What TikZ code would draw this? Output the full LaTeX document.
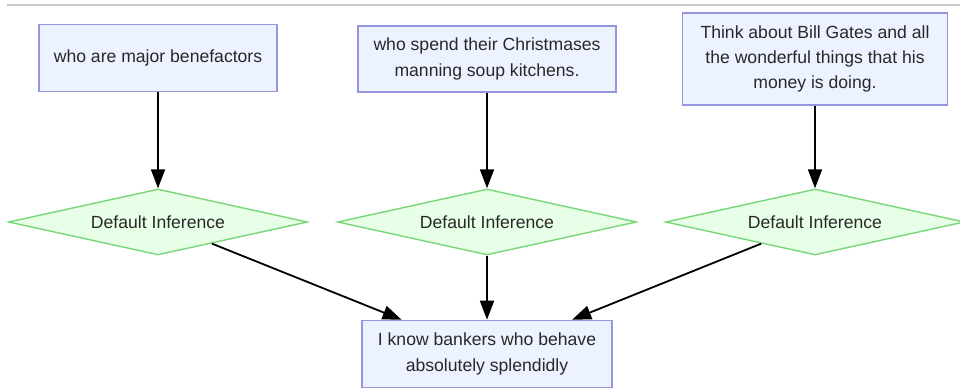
\documentclass[tikz,border=0pt]{standalone}
\usepackage{fontspec}
\setmainfont{Liberation Sans}
\usepackage{tikz}
\usetikzlibrary{arrows.meta,shapes.geometric}
\definecolor{cblue}{RGB}{236,242,255}
\definecolor{cbluedraw}{RGB}{150,150,222}
\definecolor{cgreen}{RGB}{230,255,230}
\definecolor{cgreendraw}{RGB}{120,215,120}
\definecolor{ctext}{RGB}{40,40,40}
\definecolor{csep}{RGB}{200,200,200}

\begin{document}
\begin{tikzpicture}[x=1pt,y=1pt,>={Triangle[length=19pt,width=14pt]},line width=1.8pt,node distance=163pt,
    every node/.style={font=\fontsize{17.6}{25.3}\selectfont,text=ctext,align=center},
    claim/.style={rectangle,draw=cbluedraw,fill=cblue,line width=1.6pt,inner sep=2pt},
    infer/.style={diamond,draw=cgreendraw,fill=cgreen,line width=1.4pt,inner sep=0pt,
      aspect=4.5,minimum width=299pt,minimum height=66pt}]
	  \useasboundingbox (0,0) rectangle (960,-390);
	  \draw[csep,line width=1.4pt] (7,-5) -- (960,-5);
	  \node[claim, minimum width=258pt, minimum height=66pt] (why2) at (487,-59) {who spend their Christmases\\manning soup kitchens.};
	  \node[claim, minimum width=238pt, minimum height=67pt] (why1) [left of=why2, node distance=329pt, yshift=1pt] {who are major benefactors};
	  \node[claim, minimum width=265pt, minimum height=92pt] (why3) [right of=why2, node distance=328pt] {Think about Bill Gates and all\\the wonderful things that his\\money is doing.};
	  \node[infer] (inf1) [below of=why1, yshift=-1pt] {Default Inference};
	  \node[infer] (inf2) [below of=why2] {Default Inference};
	  \node[infer] (inf3) [below of=why3] {Default Inference};
	  \node[claim, minimum width=250pt, minimum height=67pt] (bankers) [below of=inf2, node distance=132pt] {I know bankers who behave\\absolutely splendidly};

	  \path[->]
		(why1) edge (inf1)
		(why2) edge (inf2)
		(why3) edge (inf3)
		(inf1) edge (bankers)
		(inf2) edge (bankers)
		(inf3) edge (bankers)
	;
\end{tikzpicture}
\end{document}
